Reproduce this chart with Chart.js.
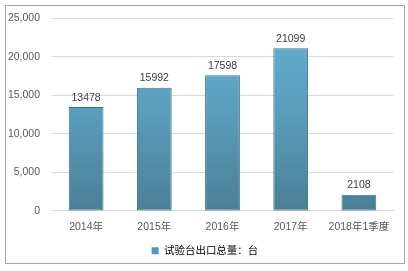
<!DOCTYPE html>
<html>
<head>
<meta charset="utf-8">
<script src="https://cdn.jsdelivr.net/npm/chart.js@4"></script>
<style>
  body { margin: 0; background: #fff; }
  #wrap { position: absolute; left: 0; top: 0; width: 408px; height: 271px; }
</style>
</head>
<body>
<div id="wrap"><canvas id="grafico" width="408" height="271"></canvas></div>
<script>
const categorias = ['2014年', '2015年', '2016年', '2017年', '2018年1季度'];
const valores = [13478, 15992, 17598, 21099, 2108];
const nomeSerie = '试验台出口总量：台';
const fonte = "'Liberation Sans', 'Noto Sans CJK SC', sans-serif";

// moldura cinza em volta do grafico
const moldura = {
  id: 'moldura',
  beforeDraw(chart) {
    const c = chart.ctx;
    c.save();
    c.fillStyle = '#fff';
    c.fillRect(0, 0, chart.width, chart.height);
    c.strokeStyle = '#a6a6a6';
    c.lineWidth = 1;
    c.strokeRect(5.5, 5.5, 399, 258);
    c.restore();
  },
  afterLayout(chart) {
    // centraliza a legenda no quadro todo
    if (chart.legend) chart.legend.left += 17;
  }
};

// valores em cima das barras
const rotulos = {
  id: 'rotulos',
  afterDatasetsDraw(chart) {
    const c = chart.ctx;
    const meta = chart.getDatasetMeta(0);
    c.save();
    c.font = '10.5px ' + fonte;
    c.fillStyle = '#404040';
    c.textAlign = 'center';
    c.textBaseline = 'bottom';
    meta.data.forEach((bar, i) => {
      c.fillText(String(valores[i]), bar.x, bar.y - 4);
    });
    c.restore();
  }
};

function gradiente(context) {
  const chart = context.chart;
  const area = chart.chartArea;
  if (!area) return '#5a9fc2';
  const g = chart.ctx.createLinearGradient(0, area.top, 0, area.bottom);
  g.addColorStop(0, '#64b0d4');
  g.addColorStop(0.5, '#5a9cbb');
  g.addColorStop(1, '#4a7f96');
  return g;
}

new Chart(document.getElementById('grafico'), {
  type: 'bar',
  data: {
    labels: categorias,
    datasets: [{
      label: nomeSerie,
      data: valores,
      backgroundColor: gradiente,
      borderColor: '#3f7288',
      borderWidth: 1,
      borderSkipped: false,
      categoryPercentage: 1,
      barPercentage: 0.51
    }]
  },
  options: {
    responsive: false,
    animation: false,
    devicePixelRatio: 1,
    layout: { padding: { left: 0, right: 15, top: 15, bottom: 5 } },
    scales: {
      y: {
        min: 0,
        max: 25000,
        ticks: {
          stepSize: 5000,
          color: '#595959',
          padding: 12,
          font: { size: 10.5, family: fonte },
          callback: v => v.toLocaleString('en-US')
        },
        grid: { color: '#d9d9d9', drawTicks: false },
        border: { display: false },
        afterFit(axis) { axis.width = 52; }
      },
      x: {
        ticks: {
          color: '#595959',
          padding: 10,
          font: { size: 10.5, family: fonte },
          maxRotation: 0
        },
        grid: { display: false, drawTicks: false },
        border: { color: '#d9d9d9' },
        afterFit(axis) { axis.height -= 6; }
      }
    },
    plugins: {
      legend: {
        position: 'bottom',
        labels: {
          color: '#595959',
          boxWidth: 7,
          boxHeight: 7,
          padding: 8,
          font: { size: 10.5, family: fonte },
          generateLabels: chart => [{
            text: nomeSerie,
            fillStyle: '#4f97bb',
            strokeStyle: '#4f97bb',
            lineWidth: 0,
            datasetIndex: 0
          }]
        }
      },
      tooltip: { enabled: false }
    }
  },
  plugins: [moldura, rotulos]
});
</script>
</body>
</html>
